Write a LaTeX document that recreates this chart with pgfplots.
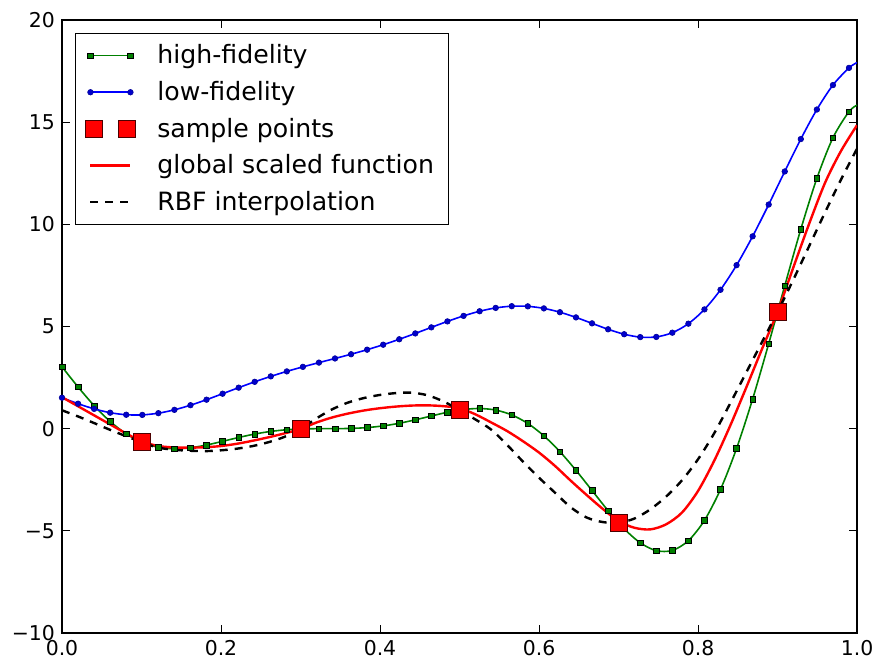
\documentclass[border=0pt]{standalone}
\usepackage{fontspec}
\setmainfont{DejaVu Sans}
\usepackage{pgfplots}
\usepackage{pgfplotstable}
\pgfplotsset{compat=1.18}
\definecolor{hfgreen}{rgb}{0,0.5,0}
\pgfplotsset{
  linelegend/.style={legend image code/.code={\draw[##1] plot coordinates {(0pt,0pt) (20pt,0pt)};}},
  pairlegend/.style={legend image code/.code={\draw[##1] plot coordinates {(1.8pt,0pt) (18.2pt,0pt)};}},
}

% x, high-fidelity, low-fidelity (marks on the first 50 rows)
\pgfplotstableread{
x hi lo
0.0000 3.0272 1.5136
0.0202 2.0394 1.2217
0.0404 1.1273 0.9677
0.0606 0.3501 0.7811
0.0808 -0.2550 0.6806
0.1010 -0.6731 0.6736
0.1212 -0.9095 0.7574
0.1414 -0.9861 0.9211
0.1616 -0.9367 1.1478
0.1818 -0.8013 1.4176
0.2020 -0.6207 1.7098
0.2222 -0.4320 2.0062
0.2424 -0.2639 2.2923
0.2626 -0.1350 2.5588
0.2828 -0.0523 2.8021
0.3030 -0.0118 3.0244
0.3232 -0.0004 3.2321
0.3434 0.0004 3.4346
0.3636 0.0118 3.6423
0.3838 0.0523 3.8646
0.4040 0.1350 4.1079
0.4242 0.2639 4.3744
0.4444 0.4320 4.6604
0.4646 0.6207 4.9569
0.4848 0.8013 5.2491
0.5051 0.9367 5.5189
0.5253 0.9861 5.7456
0.5455 0.9095 5.9093
0.5657 0.6731 5.9931
0.5859 0.2550 5.9861
0.6061 -0.3501 5.8855
0.6263 -1.1273 5.6990
0.6465 -2.0394 5.4449
0.6667 -3.0272 5.1531
0.6869 -4.0117 4.8628
0.7071 -4.8989 4.6213
0.7273 -5.5862 4.4796
0.7475 -5.9712 4.4891
0.7677 -5.9610 4.6963
0.7879 -5.4819 5.1378
0.8081 -4.4887 5.8365
0.8283 -2.9726 6.7965
0.8485 -0.9668 8.0014
0.8687 1.4506 9.4122
0.8889 4.1572 10.9675
0.9091 6.9913 12.5866
0.9293 9.7590 14.1724
0.9495 12.2466 15.6182
0.9697 14.2346 16.8143
0.9899 15.5140 17.6560
1.0000 15.8297 17.9149
}\fidelity

\pgfplotstableread{
x y
0.1 -0.657
0.3 -0.016
0.5 0.909
0.7 -4.606
0.9 5.712
}\samples

\pgfplotstableread{
x y
0.00 1.54
0.02 1.10
0.04 0.66
0.06 0.22
0.08 -0.22
0.10 -0.62
0.12 -0.84
0.14 -0.92
0.16 -0.93
0.18 -0.91
0.20 -0.85
0.22 -0.74
0.24 -0.59
0.26 -0.42
0.28 -0.23
0.30 -0.02
0.32 0.30
0.34 0.55
0.36 0.74
0.38 0.89
0.40 1.00
0.42 1.08
0.44 1.13
0.46 1.14
0.48 1.10
0.50 1.00
0.52 0.70
0.54 0.30
0.56 -0.12
0.58 -0.62
0.60 -1.17
0.62 -1.82
0.64 -2.55
0.66 -3.25
0.68 -3.92
0.70 -4.52
0.72 -4.85
0.74 -4.93
0.76 -4.68
0.78 -4.10
0.80 -3.05
0.82 -1.60
0.84 0.10
0.86 1.95
0.88 3.85
0.90 5.72
0.92 7.90
0.94 10.05
0.96 12.05
0.98 13.60
1.00 14.85
}\globalscaled

\pgfplotstableread{
x y
0.00 0.90
0.02 0.60
0.04 0.28
0.06 -0.05
0.08 -0.36
0.10 -0.657
0.12 -0.92
0.14 -1.03
0.16 -1.08
0.18 -1.10
0.20 -1.06
0.22 -0.98
0.24 -0.85
0.26 -0.66
0.28 -0.40
0.30 -0.016
0.32 0.50
0.34 0.95
0.36 1.28
0.38 1.50
0.40 1.65
0.42 1.74
0.44 1.76
0.46 1.63
0.48 1.33
0.50 0.909
0.52 0.45
0.54 -0.05
0.56 -0.80
0.58 -1.62
0.60 -2.40
0.62 -3.13
0.64 -3.85
0.66 -4.35
0.68 -4.57
0.70 -4.606
0.72 -4.40
0.74 -3.95
0.76 -3.32
0.78 -2.52
0.80 -1.50
0.82 -0.25
0.84 1.20
0.86 2.70
0.88 4.20
0.90 5.712
0.92 7.30
0.94 8.95
0.96 10.60
0.98 12.20
1.00 13.70
}\rbf

\begin{document}
\begin{tikzpicture}
\begin{axis}[
  scale only axis,
  width=397.5pt, height=306.5pt,
  xmin=0, xmax=1, ymin=-10, ymax=20,
  xtick={0,0.2,0.4,0.6,0.8,1},
  xticklabels={0.0,0.2,0.4,0.6,0.8,1.0},
  ytick={-10,-5,0,5,10,15,20},
  yticklabels={−10,−5,0,5,10,15,20},
  tick align=inside,
  major tick length=4pt,
  tick style={black, line width=0.5pt},
  axis line style={line width=0.6pt},
  ticklabel style={font=\fontsize{10.2}{12}\selectfont},
  legend cell align=left,
  legend style={at={(0.0164,0.979)}, anchor=north west,
    font=\fontsize{12.6}{14}\selectfont, draw=black, line width=0.5pt,
    inner xsep=5pt, inner ysep=3.5pt, row sep=3pt,
    /tikz/every odd column/.append style={column sep=9pt}},
]
\addplot[hfgreen, line width=0.8pt, smooth, mark=square*, mark size=1.4pt,
  mark indices={1,...,50},
  mark options={fill=hfgreen, draw=black, line width=0.3pt, solid},
  linelegend]
  table[x=x, y=hi] {\fidelity};
\addlegendentry{\strut high-fidelity}

\addplot[blue, line width=0.8pt, smooth, mark=*, mark size=1.4pt,
  mark indices={1,...,50},
  mark options={fill=blue!80!black, draw=blue!60!black, line width=0.3pt, solid},
  linelegend]
  table[x=x, y=lo] {\fidelity};
\addlegendentry{\strut low-fidelity}

\addplot[only marks, mark=square*, mark size=4.25pt,
  mark options={fill=red, draw=black!70!red, line width=0.4pt},
  pairlegend]
  table[x=x, y=y] {\samples};
\addlegendentry{\strut sample points}

\addplot[red, line width=1.2pt, smooth, no marks, linelegend]
  table[x=x, y=y] {\globalscaled};
\addlegendentry{\strut global scaled function}

\addplot[black, line width=1.2pt, smooth, no marks, dash pattern=on 4pt off 3.5pt,
  linelegend]
  table[x=x, y=y] {\rbf};
\addlegendentry{\strut RBF interpolation}
\end{axis}
\pgfresetboundingbox
\path[use as bounding box] ([shift={(-31pt,-13pt)}]current axis.south west)
  rectangle ([shift={(9pt,10pt)}]current axis.north east);
\end{tikzpicture}
\end{document}
